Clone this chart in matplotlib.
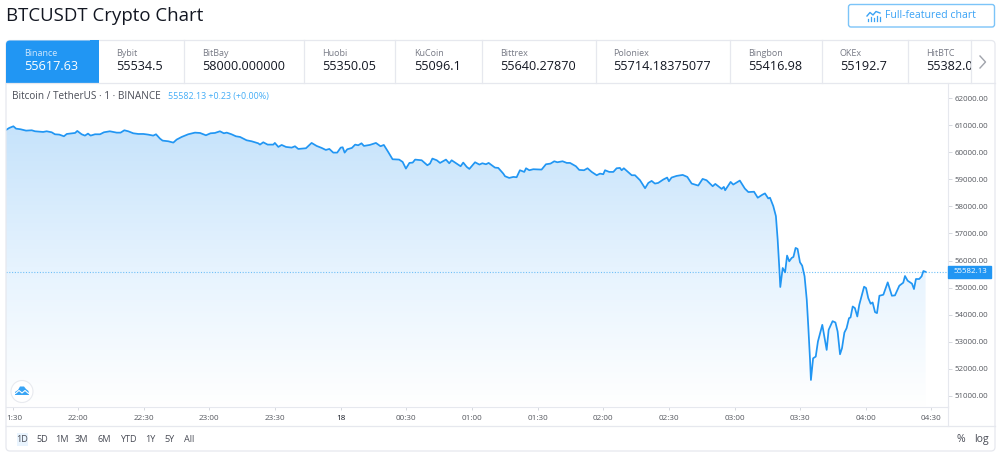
import matplotlib
matplotlib.use("Agg")
import matplotlib.pyplot as plt
import numpy as np
from matplotlib.colors import LinearSegmentedColormap
from matplotlib.patches import Circle, FancyBboxPatch, Polygon, Rectangle
from matplotlib.transforms import ScaledTranslation

plt.rcParams['font.family'] = ['Open Sans', 'DejaVu Sans']

# minutes after 21:30
minutes = [
    -3.2, -1.5, 0.4, 1.6, 3.7, 6.2, 8.8, 10.3, 14, 15.6, 17.9, 19.4, 21.4, 23.5, 24.8, 28.6, 29.6,
    31.6, 33.1, 34.5, 35.7, 37.7, 40, 41.8, 44.5, 47.6, 49.4, 51.1, 52.9, 55.2, 57.5, 59.8, 62,
    64.3, 65.6, 67.4, 68.6, 71.2, 73.5, 75, 77.3, 80.3, 83.4, 85.7, 88.4, 90.5, 92.5, 94.8, 96.6,
    97.9, 100.1, 102.1, 104, 107, 109.3, 112.3, 113.1, 114.6, 116.6, 119.2, 119.9, 121.5, 123, 125,
    127.6, 129.1, 130.6, 134.1, 136.7, 139, 141.3, 143.2, 144.8, 146.6, 148.4, 150, 150.9, 151.8,
    153, 155.1, 156.6, 158, 159.5, 160.6, 163.3, 166.1, 168.2, 169.7, 171.7, 173.7, 176.7, 178.3,
    179.8, 181.4, 182.9, 184, 187, 189.6, 190.8, 191.9, 193.9, 195.4, 198.1, 199.6, 200.7, 203,
    204.8, 206, 207.6, 208.8, 211.4, 213.4, 214.7, 216.4, 217.6, 220.5, 222, 224.3, 225.1, 227,
    228.9, 230.4, 231.9, 233.9, 234.7, 236.2, 238, 241.8, 243.8, 245.9, 247.6, 249, 251.4, 253.3,
    254.8, 257.5, 259, 261.2, 262.8, 264.7, 267, 268.5, 270, 270.8, 272.7, 274.6, 276.1, 277.6,
    278.4, 279.4, 283, 284.5, 286.8, 289.1, 290.6, 292.1, 293.6, 295.1, 297.4, 299.2, 300, 301.2,
    303.5, 306.3, 308.4, 310.4, 313.4, 315.4, 317.2, 320, 321.2, 324.1, 325.1, 325.7, 328.2, 329.4,
    332.4, 334.7, 336.3, 338.9, 340.6, 342.7, 343.9, 345.4, 346.2, 347.7, 348.9, 349.7, 350.5,
    350.9, 352, 353.1, 354, 355, 356.1, 356.9, 357.9, 358.8, 359.9, 360.9, 362, 363, 363.7, 364.5,
    364.9, 365.9, 367.1, 368.1, 370.1, 372.1, 373, 374.8, 376.1, 377.1, 378.2, 379.1, 380.2, 381.2,
    382.3, 383, 384, 385, 386.1, 387, 389.2, 390.1, 391.1, 392.2, 393.1, 394.2, 395.1, 396.2, 398,
    400, 401.9, 403.3, 405.3, 407.1, 407.9, 409.1, 411.1, 412, 412.9, 414.4, 415.5, 416.3, 417.3,
]
prices = [
    60817, 60903, 60965, 60878, 60854, 60804, 60817, 60780, 60755, 60780, 60743, 60669, 60657, 60595, 60681, 60718, 60792,
    60669, 60620, 60694, 60620, 60669, 60669, 60743, 60780, 60730, 60730, 60817, 60780, 60706, 60681, 60681, 60657,
    60620, 60669, 60509, 60435, 60410, 60361, 60472, 60570, 60669, 60730, 60718, 60632, 60706, 60718, 60780, 60706,
    60730, 60669, 60595, 60570, 60447, 60410, 60336, 60287, 60373, 60287, 60287, 60349, 60201, 60275, 60201,
    60176, 60226, 60127, 60152, 60349, 60238, 60164, 60090, 60127, 59991, 59991, 60176, 60188, 59991,
    60115, 60164, 60287, 60262, 60336, 60238, 60275, 60349, 60226, 60275, 60016, 59745, 59733, 59647,
    59400, 59610, 59622, 59733, 59708, 59523, 59585, 59770, 59708, 59610, 59733, 59597, 59708, 59585,
    59486, 59622, 59462, 59388, 59634, 59548, 59597, 59560, 59610, 59437, 59425, 59215, 59117, 59055,
    59092, 59080, 59339, 59277, 59412, 59339, 59376, 59363, 59560, 59585, 59671, 59634, 59671, 59610,
    59610, 59486, 59351, 59339, 59412, 59277, 59154, 59215, 59191, 59339, 59277, 59277, 59412, 59425,
    59339, 59412, 59154, 59154, 58969, 58673, 58870, 58944, 58846, 58870, 58994, 59068, 58932, 59068,
    59129, 59166, 59092, 58846, 58772, 59018, 58969, 58747, 58833, 58649, 58723, 58599, 58907, 58809,
    58957, 58661, 58532, 58544, 58322, 58433, 58482, 58297, 58322, 58012, 57641, 56775, 55662,
    55019, 55724, 55563, 56182, 55971, 56095, 56132, 56466, 56429, 55934, 55810, 55415, 54549, 53559, 52322,
    51580, 52384, 52446, 53003, 53621, 52693, 53436, 53757, 53708, 53374, 52532, 52755, 53336, 53497,
    53868, 53893, 54301, 54240, 53930, 54363, 55031, 54982, 54611, 54400, 54450, 54091, 54054, 54697, 54734,
    55192, 54697, 54710, 55068, 55180, 55427, 55254, 55143, 54944, 55316, 55316, 55415, 55612, 55582,
]
last_price = 55582.13

price_ticks = [51000, 52000, 53000, 54000, 55000, 56000, 57000, 58000, 59000, 60000, 61000, 62000]
time_ticks = [0, 30, 60, 90, 120, 150, 180, 210, 240, 270, 300, 330, 360, 390, 420]
time_labels = ['1:30', '22:00', '22:30', '23:00', '23:30', '18', '00:30', '01:00',
               '01:30', '02:00', '02:30', '03:00', '03:30', '04:00', '04:30']

exchanges = ['Binance', 'Bybit', 'BitBay', 'Huobi', 'KuCoin', 'Bittrex', 'Poloniex', 'Bingbon', 'OKEx', 'HitBTC']
quotes = ['55617.63', '55534.5', '58000.000000', '55350.05', '55096.1', '55640.27870',
          '55714.18375077', '55416.98', '55192.7', '55382.0']
tab_text_x = [24.5, 116.5, 202, 322, 414.5, 500, 613.5, 748, 840, 926]
tab_dividers = [183.5, 303.5, 395, 481.5, 595.5, 729.5, 821.5, 907.5, 971]
ranges = ['1D', '5D', '1M', '3M', '6M', 'YTD', '1Y', '5Y', 'All']
range_x = [22, 42, 62, 81.5, 104, 128, 150, 170, 189]

BLUE = '#2196f3'
BORDER = '#e6e8ee'
GREY = '#787b86'
DARK = '#131722'

W, H = 999, 461
fig = plt.figure(figsize=(W / 100, H / 100), dpi=100)

# price pane, placed in pixel terms
ax = fig.add_axes([5.5 / W, 1 - 407 / H, (948 - 5.5) / W, (407 - 83.5) / H])

# gradient area under the line
cmap = LinearSegmentedColormap.from_list('area', ['#c6e3fb', '#e6f3fe', '#ffffff'])
grad = ax.imshow(np.linspace(0, 1, 256).reshape(-1, 1), cmap=cmap, aspect='auto', zorder=1,
                 extent=[min(minutes), max(minutes), 50582, max(prices)], origin='upper')
area = ax.fill_between(minutes, prices, 50582, color='none')
grad.set_clip_path(area.get_paths()[0], transform=ax.transData)
ax.set_xlim(-3.2, 427.55)
ax.set_ylim(50582, 62547)

ax.axhline(last_price, color='#6fc0f8', lw=0.8, ls=(0, (1, 1.5)), zorder=2)
ax.plot(minutes, prices, color=BLUE, lw=1.25, zorder=3, solid_joinstyle='round')

for side in ['top', 'left']:
    ax.spines[side].set_visible(False)
for side in ['right', 'bottom']:
    ax.spines[side].set_color(BORDER)
    ax.spines[side].set_linewidth(0.8)

ax.yaxis.tick_right()
ax.set_yticks(price_ticks)
ax.set_yticklabels([f'{p:.2f}' for p in price_ticks])
ax.tick_params(axis='y', length=3, width=0.7, color='#d5d8df', labelsize=5.7, labelcolor='#55585f', pad=2)
ax.set_xticks(time_ticks)
ax.set_xticklabels(time_labels)
ax.tick_params(axis='x', length=2.5, width=0.7, color='#d5d8df', labelsize=5.9, labelcolor='#55585f', pad=3)
for lab in ax.get_xticklabels():
    if lab.get_text() == '18':
        lab.set_color(DARK)
first = ax.get_xticklabels()[0]
first.set_transform(first.get_transform() + ScaledTranslation(1.5 / 100, 0, fig.dpi_scale_trans))

# last price marker on the scale
ytrans = ax.get_yaxis_transform()
ax.add_patch(Rectangle((1, last_price - 222), 43 / 942.5, 444, transform=ytrans, color=BLUE, clip_on=False, zorder=5))
ax.text(1 + 22.5 / 942.5, last_price, f'{last_price:.2f}', transform=ytrans, color='white', fontsize=5.7,
        ha='center', va='center', zorder=6, clip_on=False)

# page chrome in pixel coordinates
ui = fig.add_axes([0, 0, 1, 1], facecolor='none')
ui.set_xlim(0, W)
ui.set_ylim(H, 0)
ui.axis('off')

ui.text(6, 16, 'BTCUSDT Crypto Chart', fontsize=13.45, color=DARK, va='center')

ui.add_patch(FancyBboxPatch((848.5, 4.5), 146, 22.5, boxstyle='round,pad=0,rounding_size=2.5',
                            fc='white', ec='#7cc4f8', lw=1))
ui.text(885, 16, 'Full-featured chart', fontsize=7.6, color='#3ba3f5', va='center')
ui.plot([867, 870, 873, 876, 880], [16, 12.5, 15, 11.5, 13], color='#3ba3f5', lw=1)
for bx, top in zip([867.5, 870.5, 873.5, 876.5, 879.5], [19, 17, 18, 16.5, 17]):
    ui.plot([bx, bx], [top, 21], color='#3ba3f5', lw=0.9)

# outer card and tab strip
ui.add_patch(FancyBboxPatch((6, 40.5), 989, 410.5, boxstyle='round,pad=0,rounding_size=4',
                            fc='none', ec=BORDER, lw=0.9))
active = FancyBboxPatch((6, 40.5), 92.5, 43, boxstyle='round,pad=0,rounding_size=4', fc=BLUE, ec='none')
ui.add_patch(active)
ui.add_patch(Rectangle((6, 60), 92.5, 23.5, fc=BLUE, ec='none'))
ui.add_patch(Rectangle((90, 40.5), 8.5, 20, fc=BLUE, ec='none'))
ui.plot([6, 995], [83.5, 83.5], color=BORDER, lw=0.9)
ui.plot([6, 995], [425.5, 425.5], color=BORDER, lw=0.9)
ui.plot([948, 948], [407, 425.5], color=BORDER, lw=0.8)
for x in tab_dividers:
    ui.plot([x, x], [40.5, 83.5], color=BORDER, lw=0.9)

tab_clip = Rectangle((0, 40), 971, 44, transform=ui.transData)
for i, (name, quote, x) in enumerate(zip(exchanges, quotes, tab_text_x)):
    ui.text(x, 53.5, name, fontsize=6.5, color='#cfe8fd' if i == 0 else GREY, va='center')
    q = ui.text(x, 67, quote, fontsize=9.1, color='white' if i == 0 else DARK, va='center')
    q.set_clip_path(tab_clip)
    q.set_clip_on(True)
ui.plot([980, 985.5, 980], [56, 62, 68], color='#a0a3ab', lw=1)

# pane legend
ui.text(12, 96, 'Bitcoin / TetherUS · 1 · BINANCE', fontsize=7.2, color='#4a4d57', va='center')
ui.text(168, 96.5, f'{last_price:.2f} +0.23 (+0.00%)', fontsize=6.4, color='#45adf6', va='center')

# logo
ui.add_patch(Circle((22, 391.5), 11, fc='white', ec='#e8eaef', lw=0.8))
ui.add_patch(Polygon([[15, 395], [15, 392], [18, 390], [20, 386.5], [24, 386.5], [26, 389], [28.5, 391], [29, 395]],
                     fc='#38a4f5', ec='none'))
ui.plot([15.5, 19, 22, 25, 28.5], [393.5, 390.5, 393, 390.5, 393.5], color='white', lw=0.8)

# range row
for label, x in zip(ranges, range_x):
    ui.text(x, 439, label, fontsize=6.6, color='#4a4d57', ha='center', va='center')
ui.add_patch(Rectangle((16.5, 432.5), 11, 13, fc='#e9f4fe', ec='none', zorder=0))
ui.text(961, 439, '%', fontsize=7.5, color='#4a4d57', ha='center', va='center')
ui.text(981, 439, 'log', fontsize=7.5, color='#4a4d57', ha='center', va='center')

fig.savefig('out.png', dpi=100)
